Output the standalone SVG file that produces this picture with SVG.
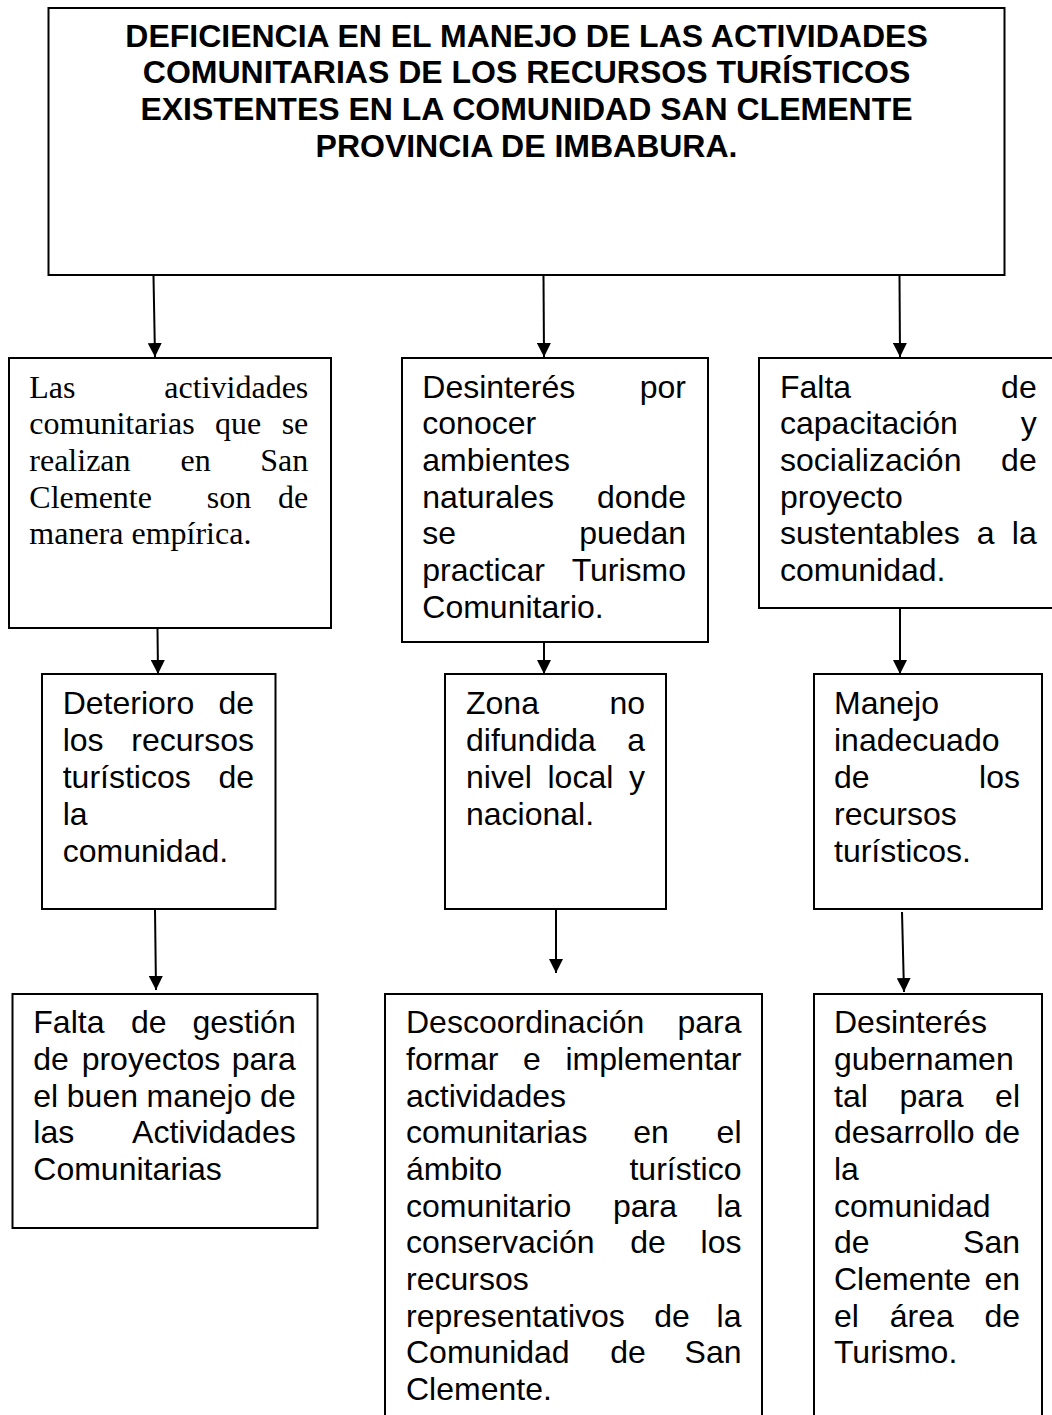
<svg xmlns="http://www.w3.org/2000/svg" width="1052" height="1415" viewBox="0 0 1052 1415">
<style>
.box{fill:#fff;stroke:#000;stroke-width:2}
.a{font-family:"Liberation Sans",Arial,sans-serif;font-size:32px;fill:#000}
.t{font-family:"Liberation Serif","Times New Roman",serif;font-size:32px;fill:#000}
.h{font-family:"Liberation Sans",Arial,sans-serif;font-size:32px;font-weight:bold;fill:#000;text-anchor:middle}
.e{text-anchor:end}
.m{text-anchor:middle}
.c{stroke:#000;stroke-width:2;fill:none;marker-end:url(#ah)}
</style>
<defs>
<marker id="ah" markerUnits="userSpaceOnUse" markerWidth="14" markerHeight="14" refX="14" refY="7" orient="auto">
<path d="M0,0 L14,7 L0,14 z" fill="#000"/>
</marker>
</defs>
<rect width="1052" height="1415" fill="#fff"/>

<g id="n0">
<rect class="box" x="48.5" y="8" width="956" height="267"/>
<text class="h" x="526.5" y="46.7">DEFICIENCIA EN EL MANEJO DE LAS ACTIVIDADES</text>
<text class="h" x="526.5" y="83.3">COMUNITARIAS DE LOS RECURSOS TURÍSTICOS</text>
<text class="h" x="526.5" y="120">EXISTENTES EN LA COMUNIDAD SAN CLEMENTE</text>
<text class="h" x="526.5" y="157">PROVINCIA DE IMBABURA.</text>
</g>

<g id="n1">
<rect class="box" x="9" y="358" width="322" height="270"/>
<text class="t" x="29.3" y="397.7">Las</text><text class="t e" x="308.3" y="397.7">actividades</text>
<text class="t" x="29.3" y="434.3">comunitarias</text><text class="t m" x="238.2" y="434.3">que</text><text class="t e" x="308.3" y="434.3">se</text>
<text class="t" x="29.3" y="471">realizan</text><text class="t m" x="195.6" y="471">en</text><text class="t e" x="308.3" y="471">San</text>
<text class="t" x="29.3" y="507.7">Clemente</text><text class="t m" x="229" y="507.7">son</text><text class="t e" x="308.3" y="507.7">de</text>
<text class="t" x="29.3" y="544.3">manera empírica.</text>
</g>

<g id="n2">
<rect class="box" x="402" y="358" width="306" height="284"/>
<text class="a" x="422.3" y="397.7">Desinterés</text><text class="a e" x="686" y="397.7">por</text>
<text class="a" x="422.3" y="434.3">conocer</text>
<text class="a" x="422.3" y="471">ambientes</text>
<text class="a" x="422.3" y="507.7">naturales</text><text class="a e" x="686" y="507.7">donde</text>
<text class="a" x="422.3" y="544.3">se</text><text class="a e" x="686" y="544.3">puedan</text>
<text class="a" x="422.3" y="581">practicar</text><text class="a e" x="686" y="581">Turismo</text>
<text class="a" x="422.3" y="617.7">Comunitario.</text>
</g>

<g id="n3">
<rect class="box" x="759" y="358" width="310" height="250"/>
<text class="a" x="780" y="397.7">Falta</text><text class="a e" x="1036.7" y="397.7">de</text>
<text class="a" x="780" y="434.3">capacitación</text><text class="a e" x="1036.7" y="434.3">y</text>
<text class="a" x="780" y="471">socialización</text><text class="a e" x="1036.7" y="471">de</text>
<text class="a" x="780" y="507.7">proyecto</text>
<text class="a" x="780" y="544.3">sustentables</text><text class="a m" x="985.7" y="544.3">a</text><text class="a e" x="1036.7" y="544.3">la</text>
<text class="a" x="780" y="581">comunidad.</text>
</g>

<g id="n4">
<rect class="box" x="42" y="674" width="233.5" height="235"/>
<text class="a" x="62.7" y="714">Deterioro</text><text class="a e" x="254" y="714">de</text>
<text class="a" x="62.7" y="751">los</text><text class="a e" x="254" y="751">recursos</text>
<text class="a" x="62.7" y="788">turísticos</text><text class="a e" x="254" y="788">de</text>
<text class="a" x="62.7" y="825">la</text>
<text class="a" x="62.7" y="862">comunidad.</text>
</g>

<g id="n5">
<rect class="box" x="445" y="674" width="221" height="235"/>
<text class="a" x="466" y="714">Zona</text><text class="a e" x="645" y="714">no</text>
<text class="a" x="466" y="751">difundida</text><text class="a e" x="645" y="751">a</text>
<text class="a" x="466" y="788">nivel</text><text class="a m" x="580.4" y="788">local</text><text class="a e" x="645" y="788">y</text>
<text class="a" x="466" y="825">nacional.</text>
</g>

<g id="n6">
<rect class="box" x="814" y="674" width="228" height="235"/>
<text class="a" x="834" y="714">Manejo</text>
<text class="a" x="834" y="751">inadecuado</text>
<text class="a" x="834" y="788">de</text><text class="a e" x="1020" y="788">los</text>
<text class="a" x="834" y="825">recursos</text>
<text class="a" x="834" y="862">turísticos.</text>
</g>

<g id="n7">
<rect class="box" x="12.5" y="994" width="305" height="234"/>
<text class="a" x="33.3" y="1033.3">Falta</text><text class="a m" x="148.8" y="1033.3">de</text><text class="a e" x="295.7" y="1033.3">gestión</text>
<text class="a" x="33.3" y="1070">de</text><text class="a m" x="151" y="1070">proyectos</text><text class="a e" x="295.7" y="1070">para</text>
<text class="a" x="33.3" y="1106.7">el</text><text class="a m" x="102.4" y="1106.7">buen</text><text class="a m" x="199" y="1106.7">manejo</text><text class="a e" x="295.7" y="1106.7">de</text>
<text class="a" x="33.3" y="1143.3">las</text><text class="a e" x="295.7" y="1143.3">Actividades</text>
<text class="a" x="33.3" y="1180">Comunitarias</text>
</g>

<g id="n8">
<rect class="box" x="385" y="994" width="377" height="440"/>
<text class="a" x="406" y="1033.3">Descoordinación</text><text class="a e" x="741.5" y="1033.3">para</text>
<text class="a" x="406" y="1070">formar</text><text class="a m" x="532" y="1070">e</text><text class="a e" x="741.5" y="1070">implementar</text>
<text class="a" x="406" y="1106.7">actividades</text>
<text class="a" x="406" y="1143.3">comunitarias</text><text class="a m" x="651" y="1143.3">en</text><text class="a e" x="741.5" y="1143.3">el</text>
<text class="a" x="406" y="1180">ámbito</text><text class="a e" x="741.5" y="1180">turístico</text>
<text class="a" x="406" y="1216.7">comunitario</text><text class="a m" x="645" y="1216.7">para</text><text class="a e" x="741.5" y="1216.7">la</text>
<text class="a" x="406" y="1253.3">conservación</text><text class="a m" x="648" y="1253.3">de</text><text class="a e" x="741.5" y="1253.3">los</text>
<text class="a" x="406" y="1290">recursos</text>
<text class="a" x="406" y="1326.7">representativos</text><text class="a m" x="672" y="1326.7">de</text><text class="a e" x="741.5" y="1326.7">la</text>
<text class="a" x="406" y="1363.3">Comunidad</text><text class="a m" x="628" y="1363.3">de</text><text class="a e" x="741.5" y="1363.3">San</text>
<text class="a" x="406" y="1400">Clemente.</text>
</g>

<g id="n9">
<rect class="box" x="814" y="994" width="228" height="440"/>
<text class="a" x="834" y="1033.3">Desinterés</text>
<text class="a" x="834" y="1070">gubernamen</text>
<text class="a" x="834" y="1106.7">tal</text><text class="a m" x="931.5" y="1106.7">para</text><text class="a e" x="1020" y="1106.7">el</text>
<text class="a" x="834" y="1143.3">desarrollo</text><text class="a e" x="1020" y="1143.3">de</text>
<text class="a" x="834" y="1180">la</text>
<text class="a" x="834" y="1216.7">comunidad</text>
<text class="a" x="834" y="1253.3">de</text><text class="a e" x="1020" y="1253.3">San</text>
<text class="a" x="834" y="1290">Clemente</text><text class="a e" x="1020" y="1290">en</text>
<text class="a" x="834" y="1326.7">el</text><text class="a m" x="921.7" y="1326.7">área</text><text class="a e" x="1020" y="1326.7">de</text>
<text class="a" x="834" y="1363.3">Turismo.</text>
</g>

<g id="connectors">
<path class="c" d="M153.5,276 L155,357"/>
<path class="c" d="M543.5,276 L544,357"/>
<path class="c" d="M899.5,276 L900,357"/>
<path class="c" d="M157.5,629 L158,674"/>
<path class="c" d="M544,643 L544,674"/>
<path class="c" d="M900,609 L900,674"/>
<path class="c" d="M155,910 L156,990"/>
<path class="c" d="M556,910 L556,973"/>
<path class="c" d="M902,912 L904,992"/>
</g>
</svg>
